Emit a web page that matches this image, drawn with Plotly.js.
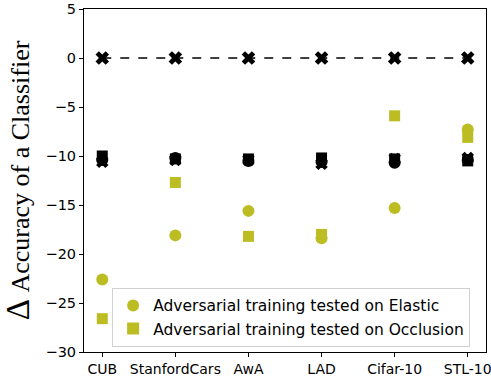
<!DOCTYPE html>
<html>
<head>
<meta charset="utf-8">
<script src="https://cdn.plot.ly/plotly-3.0.1.min.js"></script>
<style>html,body{margin:0;padding:0;background:#fff;}#chart{width:491px;height:380px;}</style>
</head>
<body>
<div id="chart"></div>
<script>
const categories = ["CUB", "StanfordCars", "AwA", "LAD", "Cifar-10", "STL-10"];
const baseline = [0, 0, 0, 0, 0, 0];
const advElastic = [-22.6, -18.1, -15.6, -18.4, -15.3, -7.3];
const advOcclusion = [-26.6, -12.7, -18.2, -18.0, -5.9, -8.1];
const blackSquare = [-10.0, -10.3, -10.3, -10.2, -10.3, -10.5];
const blackCircle = [-10.4, -10.2, -10.5, -10.6, -10.7, -10.4];
const blackX = [-10.6, -10.4, -10.4, -10.8, -10.3, -10.2];
const yTicks = [5, 0, -5, -10, -15, -20, -25, -30];

const idx = categories.map((c, i) => i);
const olive = "#bcbd22";
const traces = [
  {x: idx, y: baseline, mode: "lines+markers", type: "scatter", showlegend: false,
   line: {color: "black", dash: "dash", width: 1.5},
   marker: {symbol: "x", size: 12, color: "black"}},
  {x: idx, y: blackSquare, mode: "markers", type: "scatter", showlegend: false,
   marker: {symbol: "square", size: 11, color: "black"}},
  {x: idx, y: blackCircle, mode: "markers", type: "scatter", showlegend: false,
   marker: {symbol: "circle", size: 12, color: "black"}},
  {x: idx, y: blackX, mode: "markers", type: "scatter", showlegend: false,
   marker: {symbol: "x", size: 11, color: "black"}},
  {x: idx, y: advElastic, mode: "markers", type: "scatter", name: "Adversarial training tested on Elastic",
   marker: {symbol: "circle", size: 12, color: olive}},
  {x: idx, y: advOcclusion, mode: "markers", type: "scatter", name: "Adversarial training tested on Occlusion",
   marker: {symbol: "square", size: 11, color: olive}}
];

const layout = {
  width: 491, height: 380,
  margin: {l: 84, r: 5, t: 9, b: 28, pad: 0},
  paper_bgcolor: "white", plot_bgcolor: "white",
  font: {family: "DejaVu Sans", size: 14.5, color: "black"},
  xaxis: {
    range: [-0.25, 5.25], tickvals: idx, ticktext: categories, tickangle: 0,
    showgrid: false, zeroline: false, showline: true, mirror: true,
    linecolor: "black", linewidth: 1, ticks: "outside", ticklen: 4, tickcolor: "black",
    tickfont: {family: "DejaVu Sans", size: 14}, ticklabeloverflow: "allow", automargin: false
  },
  yaxis: {
    range: [-30, 5], tickvals: yTicks, ticktext: yTicks.map(v => v < 0 ? "\u2212" + Math.abs(v) : String(v)),
    showgrid: false, zeroline: false, showline: true, mirror: true,
    linecolor: "black", linewidth: 1, ticks: "outside", ticklen: 4, tickcolor: "black",
    tickfont: {family: "DejaVu Sans", size: 14.5}, automargin: false,
    title: {text: "<span style='font-size:33px'>\u0394</span> Accuracy of a Classifier", font: {family: "Liberation Serif", size: 26}, standoff: 8}
  },
  legend: {
    x: 0.07, y: 0.187, xanchor: "left", yanchor: "top",
    bgcolor: "rgba(255,255,255,0.8)", bordercolor: "#d0d0d0", borderwidth: 1,
    font: {family: "DejaVu Sans", size: 15.5}, itemsizing: "constant"
  },
  showlegend: true
};

Plotly.newPlot("chart", traces, layout, {displayModeBar: false, staticPlot: true});
</script>
</body>
</html>
